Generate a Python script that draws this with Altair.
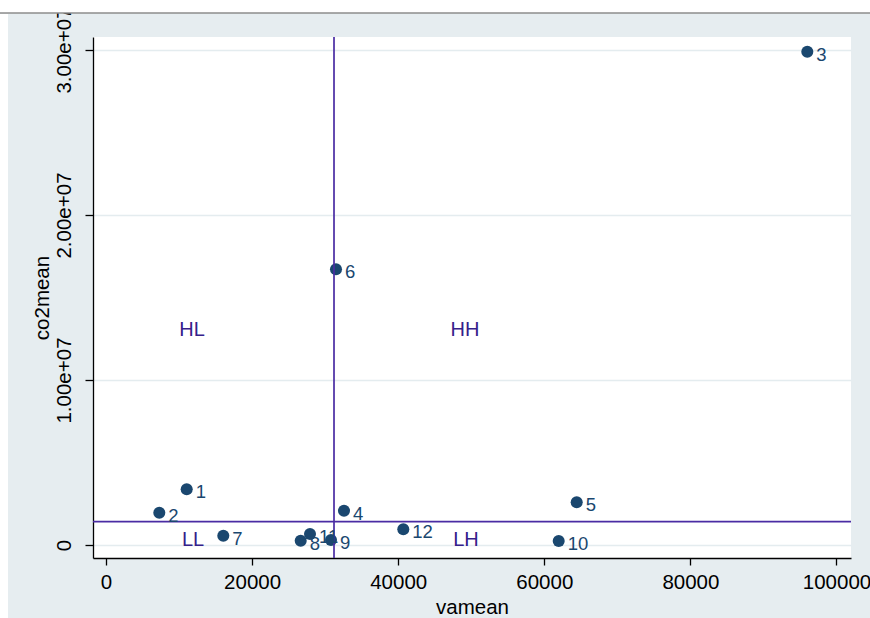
import altair as alt
import pandas as pd

# ---- data ----
ids = ["1", "2", "3", "4", "5", "6", "7", "8", "9", "10", "11", "12"]
vamean = [11047, 7296, 96003, 32580, 64435, 31485, 16057, 26653, 30801, 61971, 27926, 40698]
co2mean = [3.38e6, 1.96e6, 2.99e7, 2.08e6, 2.59e6, 1.671e7, 5.6e5, 2.6e5, 3.0e5, 2.4e5, 6.7e5, 9.5e5]

quad_labels = ["HL", "HH", "LL", "LH"]
quad_x = [11773, 49144, 11910, 49281]
quad_y = [1.303e7, 1.303e7, 3.0e5, 3.0e5]

vline_x = 31212      # mean of vamean
hline_y = 1.412e6    # mean of co2mean

x_ticks = [0, 20000, 40000, 60000, 80000, 100000]
y_ticks = [0, 1e7, 2e7, 3e7]

FONT = "Liberation Sans"
NAVY = "#1a476f"
LINE = "#4a2ca3"
QTEXT = "#35208a"
BG = "#e6edf0"

df = pd.DataFrame({"id": ids, "vamean": vamean, "co2mean": co2mean})
qdf = pd.DataFrame({"lab": quad_labels, "x": quad_x, "y": quad_y})
one = pd.DataFrame({"a": [0]})

xscale = alt.Scale(domain=[-1780, 101985], nice=False, zero=False)
yscale = alt.Scale(domain=[-788000, 30788000], nice=False, zero=False)

xaxis = alt.Axis(
    title="vamean", values=x_ticks, grid=False, format="d",
    labelFont=FONT, labelFontSize=20.5, labelColor="black", labelPadding=7,
    titleFont=FONT, titleFontSize=20.5, titleFontWeight="normal", titleColor="black", titlePadding=5,
    domainColor="black", domainWidth=1.3, tickColor="black", tickWidth=1.3, tickSize=7,
    labelFlush=False, labelOverlap=False,
)
yaxis = alt.Axis(
    title="co2mean", values=y_ticks, grid=True, gridColor="#e4ecef", gridWidth=1.5,
    labelExpr="datum.value == 0 ? '0' : format(datum.value / 1e7, '.2f') + 'e+07'",
    labelAngle=270, labelAlign="center", labelBaseline="bottom",
    labelFont=FONT, labelFontSize=20.5, labelColor="black", labelPadding=11,
    titleFont=FONT, titleFontSize=20.5, titleFontWeight="normal", titleColor="black", titlePadding=2,
    domainColor="black", domainWidth=1.3, tickColor="black", tickWidth=1.3, tickSize=8,
    labelFlush=False, labelOverlap=False,
)

base = alt.Chart(df)

points = base.mark_circle(size=145, color=NAVY, opacity=1).encode(
    x=alt.X("vamean:Q", scale=xscale, axis=xaxis),
    y=alt.Y("co2mean:Q", scale=yscale, axis=yaxis),
)

labels = base.mark_text(align="left", baseline="middle", dx=9, dy=3,
                        font=FONT, fontSize=18.5, color=NAVY).encode(
    x="vamean:Q", y="co2mean:Q", text="id:N"
)

vrule = alt.Chart(one).mark_rule(color=LINE, strokeWidth=1.7).encode(x=alt.datum(vline_x))
hrule = alt.Chart(one).mark_rule(color=LINE, strokeWidth=1.7).encode(y=alt.datum(hline_y))

qtext = alt.Chart(qdf).mark_text(font=FONT, fontSize=20, color=QTEXT,
                                 align="center", baseline="middle").encode(
    x="x:Q", y="y:Q", text="lab:N"
)

# frame decorations: white strip at top with grey line, white strip at left
top_strip = alt.Chart(one).mark_rect(color="white").encode(
    x=alt.value(-93), x2=alt.value(777), y=alt.value(-40), y2=alt.value(-24)
)
top_line = alt.Chart(one).mark_rule(color="#8c8c8c", strokeWidth=1.5).encode(
    x=alt.value(-93), x2=alt.value(777), y=alt.value(-24)
)
left_strip = alt.Chart(one).mark_rect(color="white").encode(
    x=alt.value(-93), x2=alt.value(-85), y=alt.value(-23), y2=alt.value(585)
)

chart = alt.layer(
    points, vrule, hrule, labels, qtext, top_strip, top_line, left_strip
).properties(
    width=758, height=521,
    padding={"left": 93, "top": 37, "right": 19, "bottom": 60},
    autosize=alt.AutoSizeParams(type="none"),
    background=BG,
).configure_view(
    fill="white", stroke=None
)

chart.save("out.html", embed_options={"renderer": "svg", "actions": False})
